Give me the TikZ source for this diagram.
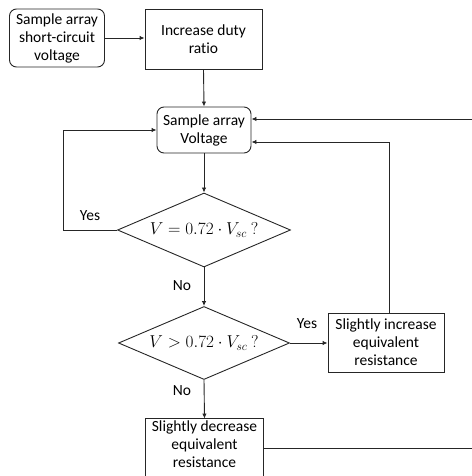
\documentclass[tikz,border=0pt]{standalone}
\usepackage{fontspec}
\setmainfont{Carlito}[Ligatures=NoCommon]
\usetikzlibrary{shapes.geometric,arrows.meta}
\begin{document}
\begin{tikzpicture}[x=1bp,y=-1bp,
  every node/.style={font=\fontsize{15.5bp}{18bp}\selectfont},
  line/.style={line width=0.9bp,draw=black!85},
  arr/.style={line, -{Latex[length=5bp,width=4.5bp]}},
  boxsq/.style={line, rectangle, align=center, inner sep=1bp},
  boxrd/.style={boxsq, rounded corners=7bp},
  test/.style={line, diamond, aspect=2.3, inner sep=0pt,
    font=\fontsize{16.5bp}{19bp}\selectfont},
  lbl/.style={inner sep=0pt}]
\useasboundingbox (0,0) rectangle (472,476);

% process blocks
\node (sc)  [boxrd, minimum width=95bp, minimum height=58bp] at (57,38)
  {Sample array\\short-circuit\\voltage};
\node (duty) [boxsq, minimum width=117bp, minimum height=60bp] at (203.5,39)
  {Increase duty\\ratio};
\node (samp) [boxrd, minimum width=94bp, minimum height=46bp] at (204,130)
  {Sample array\\Voltage};

% decisions
\node (eq) [test, minimum width=173bp, minimum height=74bp] at (204,230)
  {$V = 0.72\cdot V_{sc}\ ?$};
\node (gt) [test, minimum width=171bp, minimum height=73bp] at (204,343)
  {$V > 0.72\cdot V_{sc}\ ?$};

% resistance adjustments
\node (inc) [boxsq, minimum width=116bp, minimum height=59bp] at (386,342.5)
  {Slightly increase\\equivalent\\resistance};
% the lower block runs on past the bottom edge: text node plus a taller frame
\node (dec) [boxsq, draw=none, minimum width=117bp, minimum height=50bp] at (204.5,444)
  {Slightly decrease\\equivalent\\resistance};
\draw[line] ([yshift=-30bp]dec.south west) rectangle (dec.north east);

% loose ends running off to the right
\coordinate (ret) at (472,119);
\coordinate (decout) at (472,448);

% connectors
\draw[arr] (sc.east |- 0,38) -- (duty.west |- 0,38);
\draw[arr] (duty.south) -- (samp.north);
\draw[arr] (ret) -- (samp.east |- ret);
\draw[arr] (samp.south) -- (eq.north);
\draw[arr] (eq.west) -- ++(-54,0) |- (samp.west);
\draw[arr] (eq.south) -- (gt.north);
\draw[arr] (gt.east) -- (inc.west |- gt.east);
\draw[arr] ([xshift=3bp]inc.north) |- ([yshift=-12bp]samp.east);
\draw[arr] (gt.south) -- (dec.north);
\draw[line] (dec.east |- decout) -- (decout);

% branch labels
\node[lbl] (y1) at (90,216) {Yes};
\node[lbl] (n1) at (182,286) {No};
\node[lbl] (y2) at (307,324) {Yes};
\node[lbl] (n2) at (182,391) {No};
\end{tikzpicture}
\end{document}
